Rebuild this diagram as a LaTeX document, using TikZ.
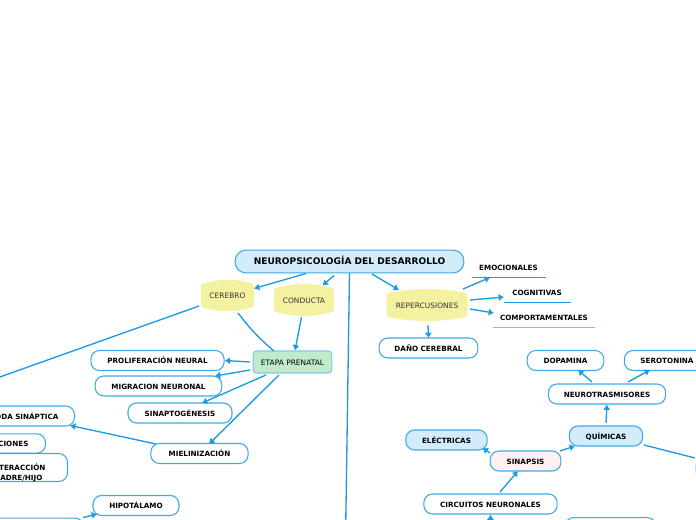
\documentclass[tikz,border=0pt]{standalone}
\usepackage{fontspec}
\usepackage{xcolor}
\setmainfont{DejaVu Sans}
\usetikzlibrary{calc, arrows.meta, backgrounds}
\definecolor{linkblue}{HTML}{1B9AE4}
\definecolor{paleblue}{HTML}{D3ECFB}
\definecolor{barrelyellow}{HTML}{F4F1A0}
\definecolor{mintgreen}{HTML}{BEEBCB}
\definecolor{palepink}{HTML}{FFF1F1}
\tikzset{
    pill/.style={draw=linkblue!85, line width=0.8pt, rounded corners=6.5pt, fill=white, inner sep=0pt,
        minimum height=15pt, text height=5pt, text depth=0pt, font=\bfseries\fontsize{5.4}{7.2}\selectfont, align=center},
    barrel/.style={inner sep=0pt, text height=5pt, text depth=0pt, font=\fontsize{5.6}{7}\selectfont, text=black!80},
    underlined/.style={inner sep=0pt, text height=5pt, text depth=0pt, font=\bfseries\fontsize{5.4}{7}\selectfont},
    link/.style={draw=linkblue, line width=1pt, -{Latex[length=4pt,width=5.5pt]}},
    plainlink/.style={draw=linkblue, line width=1pt},
    rule/.style={draw=linkblue, line width=0.8pt}
}
\begin{document}
\begin{tikzpicture}[x=0.75pt, y=-0.75pt]
    \useasboundingbox (0,0) rectangle (696,520);
    \clip (0,0) rectangle (696,520);
    % main title
    \node[pill, fill=paleblue, rounded corners=8pt, minimum width=171.5pt, minimum height=17pt,
        font=\bfseries\fontsize{6.8}{8}\selectfont] (title) at (349.5,261.5) {NEUROPSICOLOGÍA DEL DESARROLLO};
    % yellow nodes
    \node[barrel, minimum width=39.5pt, minimum height=17pt] (cerebro) at (227.5,295.5) {CEREBRO};
    \node[barrel, minimum width=44.5pt, minimum height=17pt] (conducta) at (304,300) {CONDUCTA};
    \node[barrel, minimum width=60pt, minimum height=17.5pt] (repercusiones) at (427,305) {REPERCUSIONES};
    \begin{scope}[on background layer]
        \foreach \n/\b in {cerebro/15, conducta/14, repercusiones/10}
            \fill[barrelyellow, rounded corners=1.5pt] (\n.north west) to[bend left=\b] (\n.north east)
                -- (\n.south east) to[bend left=\b] (\n.south west) -- cycle;
    \end{scope}
    % left branch
    \node[pill, fill=mintgreen, draw=linkblue!55, rounded corners=2.5pt, minimum width=59pt, minimum height=16.5pt,
        font=\fontsize{5.6}{7}\selectfont] (etapa) at (292.5,362) {ETAPA PRENATAL};
    \node[pill, minimum width=100pt] (proliferacion) at (157.5,360.5) {PROLIFERACIÓN NEURAL};
    \node[pill, minimum width=95pt] (migracion) at (158.5,386) {MIGRACION NEURONAL};
    \node[pill, minimum width=78pt] (sinaptogenesis) at (180,413) {SINAPTOGÉNESIS};
    \node[pill, minimum width=73pt] (mielinizacion) at (199.5,453.5) {MIELINIZACIÓN};
    \node[pill, anchor=east, text width=100pt, align=right, minimum height=15pt] (poda) at (75,416)
        {ODA SINÁPTICA\rule{12pt}{0pt}};
    \node[pill, anchor=east, text width=100pt, align=right, minimum height=14.5pt] (ciones) at (46,443.5)
        {CIONES\rule{12.75pt}{0pt}};
    \node[pill, anchor=east, text width=100pt, align=right, minimum height=21pt] (interaccion) at (68,467.5)
        {TERACCIÓN\rule{16.5pt}{0pt}\\ADRE/HIJO\rule{18.75pt}{0pt}};
    \node[pill, minimum width=64.5pt] (hipotalamo) at (136,505.5) {HIPOTÁLAMO};
    \node[pill, anchor=north east, minimum width=100pt] (bottomleft) at (84,517.5) {};
    % right branch
    \node[underlined] (emocionales) at (508.5,267) {EMOCIONALES};
    \node[underlined] (cognitivas) at (537,292) {COGNITIVAS};
    \node[underlined] (comportamentales) at (544,317) {COMPORTAMENTALES};
    \draw[rule] (472,277.5) -- (546,277.5) coordinate (emocionalesrule);
    \draw[rule] (504,302.5) -- (571,302.5) coordinate (cognitivasrule);
    \draw[rule, draw=linkblue!60] (493,327.5) -- (595,327.5) coordinate (comportamentalesrule);
    \node[pill, minimum width=74pt] (dano) at (428.5,348) {DAÑO CEREBRAL};
    \node[pill, minimum width=57.5pt] (dopamina) at (565.5,360.5) {DOPAMINA};
    \node[pill, minimum width=64pt] (serotonina) at (667,360.5) {SEROTONINA};
    \node[pill, minimum width=88pt] (neurotrasmisores) at (607,394) {NEUROTRASMISORES};
    \node[pill, fill=paleblue, minimum width=55pt] (quimicas) at (606,436) {QUÍMICAS};
    \node[pill, fill=paleblue, minimum width=61pt] (electricas) at (446.5,440) {ELÉCTRICAS};
    \node[pill, fill=palepink, minimum width=53pt] (sinapsis) at (525.5,461) {SINAPSIS};
    \node[pill, minimum width=100pt] (circuitos) at (490.5,504) {CIRCUITOS NEURONALES};
    \node[pill, minimum width=68pt, anchor=north] (bottomright) at (610.5,517) {};
    \node[pill, fill=paleblue, draw=linkblue!30, anchor=north west, minimum width=40pt] (offright) at (695,458) {};
    \coordinate (offleft) at (-50,394.8);
    \coordinate (offbottom) at (345.5,540);
    \coordinate (offcircuitos) at (490,540);
    % connectors
    \draw[link] ($(title)+(-43.5,12)$) -- ($(cerebro)+(26.5,-7)$);
    \draw[link] ($(title)+(-15.5,14)$) -- (322.5,285.5);
    \draw[link] ($(title)+(22.5,12.5)$) -- ($(repercusiones)+(-28,-15)$);
    \draw[plainlink] ($(title)+(0,11.5)$) -- (offbottom);
    \draw[plainlink] ($(cerebro)+(-28.5,10.5)$) -- (offleft);
    \draw[plainlink] ($(cerebro)+(10.5,17.5)$) to[bend right=6] ($(etapa)+(-18.5,-11)$);
    \draw[link] ($(conducta)+(-2.5,17)$) -- (etapa.north -| 295,0);
    \draw[link] ($(etapa)+(-42.5,0)$) -- (proliferacion.east);
    \draw[link] ($(etapa)+(-42.5,8)$) -- ($(migracion)+(56.5,-10)$);
    \draw[link] ($(etapa)+(-26.5,13)$) -- ($(sinaptogenesis)+(22,-10)$);
    \draw[link] ($(etapa)+(-13.5,13)$) -- ($(mielinizacion)+(9.5,-9.5)$);
    \draw[link] ($(mielinizacion)+(-43.5,-9.5)$) -- ($(poda.north east)+(-5,20)$);
    \draw[link] ($(bottomleft.north east)+(-1,0)$) -- ($(hipotalamo)+(-39,8.5)$);
    \draw[link] ($(repercusiones)+(36,-16)$) -- (490,277.5);
    \draw[link] ($(repercusiones)+(43,-5)$) -- ($(cognitivas)+(-33,5)$);
    \draw[link] ($(repercusiones)+(43,4)$) -- ($(comportamentales)+(-50,-4)$);
    \draw[link] ($(repercusiones)+(1,20)$) -- ($(dano)+(0,-10)$);
    \draw[link] ($(neurotrasmisores)+(-15,-12)$) -- ($(dopamina)+(12.5,9.5)$);
    \draw[link] ($(neurotrasmisores)+(21,-12)$) -- ($(serotonina)+(-17,9.5)$);
    \draw[link] ($(quimicas)+(0,-13)$) -- (neurotrasmisores.south);
    \draw[link] ($(sinapsis)+(-35.5,-8)$) -- ($(electricas)+(36,8)$);
    \draw[link] ($(sinapsis)+(34.5,-10)$) -- ($(quimicas)+(-31,10)$);
    \draw[link] ($(circuitos)+(9.5,-12)$) -- ($(sinapsis)+(-7.5,10)$);
    \draw[link] (offcircuitos) -- (circuitos.south);
    \draw[plainlink] ($(quimicas)+(38,9)$) -- (offright.north west);
\end{tikzpicture}
\end{document}
